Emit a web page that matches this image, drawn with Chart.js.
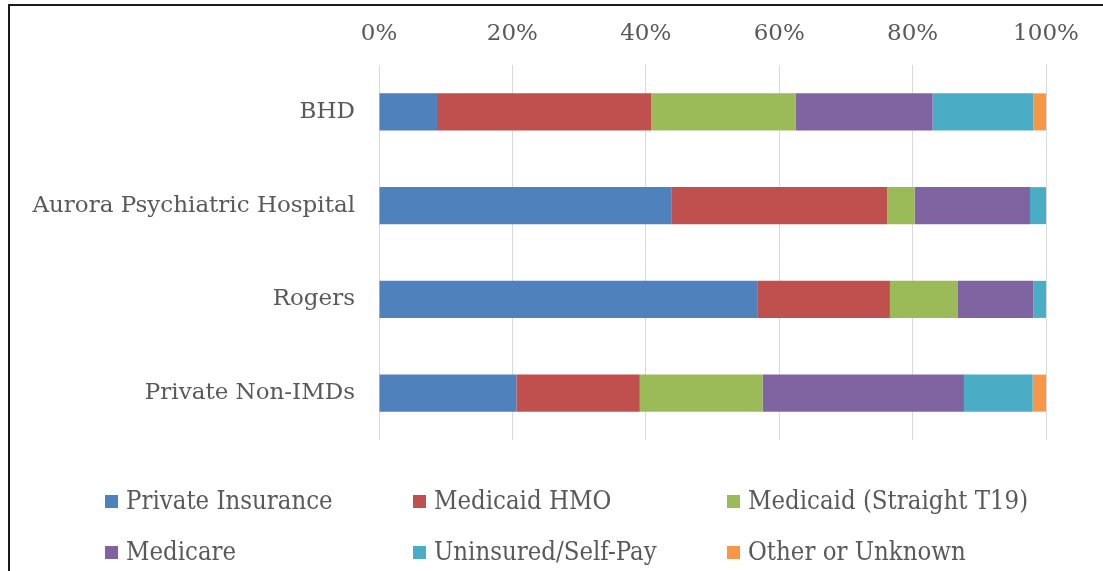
<!DOCTYPE html>
<html>
<head>
<meta charset="utf-8">
<script src="https://cdn.jsdelivr.net/npm/chart.js@4"></script>
<style>
  html, body { margin: 0; padding: 0; background: #fff; }
  #wrap { position: relative; width: 1103px; height: 571px; overflow: hidden; }
  #frame { position: absolute; left: 8px; top: 4px; width: 1200px; height: 700px;
           border-left: 2px solid #1a1a1a; border-top: 2px solid #1a1a1a; }
  #legend { position: absolute; left: 0; top: 486px; width: 1103px;
            font-family: "DejaVu Serif Condensed", "DejaVu Serif", serif; font-size: 25.5px; color: #595959; }
  .item { position: absolute; white-space: nowrap; line-height: 28px; }
  .box { display: inline-block; width: 13px; height: 13px; margin-right: 8px; vertical-align: 1px; }
</style>
</head>
<body>
<div id="wrap">
  <canvas id="chart" width="1103" height="571"></canvas>
  <div id="frame"></div>
  <div id="legend"></div>
</div>
<script>
const categories = ['BHD', 'Aurora Psychiatric Hospital', 'Rogers', 'Private Non-IMDs'];
const seriesNames = ['Private Insurance', 'Medicaid HMO', 'Medicaid (Straight T19)', 'Medicare', 'Uninsured/Self-Pay', 'Other or Unknown'];
const seriesColors = ['#4F81BD', '#C0504D', '#9BBB59', '#8064A2', '#4BACC6', '#F79646'];

// percent share per category, in the order of categories
const privateInsurance = [8.7, 43.9, 56.8, 20.6];
const medicaidHmo      = [32.1, 32.3, 19.8, 18.5];
const medicaidT19      = [21.7, 4.1, 10.2, 18.4];
const medicare         = [20.5, 17.3, 11.3, 30.2];
const uninsured        = [15.1, 2.4, 1.9, 10.3];
const otherUnknown     = [1.9, 0, 0, 2.0];

const seriesValues = [privateInsurance, medicaidHmo, medicaidT19, medicare, uninsured, otherUnknown];
const xTicks = [0, 20, 40, 60, 80, 100];

const fontFamily = '"DejaVu Serif", serif';
const textColor = '#595959';

const datasets = seriesNames.map((name, i) => ({
    label: name,
    data: seriesValues[i],
    backgroundColor: seriesColors[i],
    borderWidth: 0,
    barPercentage: 0.395,
    categoryPercentage: 1
}));

new Chart(document.getElementById('chart'), {
    type: 'bar',
    data: { labels: categories, datasets: datasets },
    options: {
        indexAxis: 'y',
        responsive: false,
        animation: false,
        layout: { padding: { left: 0, right: 57, top: 0, bottom: 131 } },
        plugins: { legend: { display: false }, tooltip: { enabled: false } },
        scales: {
            x: {
                position: 'top',
                stacked: true,
                min: 0,
                max: 100,
                afterBuildTicks: axis => { axis.ticks = xTicks.map(v => ({ value: v })); },
                ticks: {
                    callback: v => v + '%',
                    color: textColor,
                    font: { family: fontFamily, size: 23 },
                    padding: 17,
                    maxRotation: 0
                },
                grid: { color: '#d9d9d9', lineWidth: 1, drawTicks: false },
                border: { display: false },
                afterFit: axis => { axis.height = 65; }
            },
            y: {
                stacked: true,
                ticks: {
                    color: textColor,
                    font: { family: fontFamily, size: 23 },
                    padding: 24
                },
                grid: { display: false, drawTicks: false },
                border: { display: false },
                afterFit: axis => { axis.width = 379; }
            }
        }
    }
});

// legend laid out in two rows of three, as in the original
const legendCols = [105, 413, 727];
const legendRows = [0, 51];
const legend = document.getElementById('legend');
seriesNames.forEach((name, i) => {
    const el = document.createElement('div');
    el.className = 'item';
    el.style.left = legendCols[i % 3] + 'px';
    el.style.top = legendRows[Math.floor(i / 3)] + 'px';
    el.innerHTML = '<span class="box" style="background:' + seriesColors[i] + '"></span>' + name;
    legend.appendChild(el);
});
</script>
</body>
</html>
